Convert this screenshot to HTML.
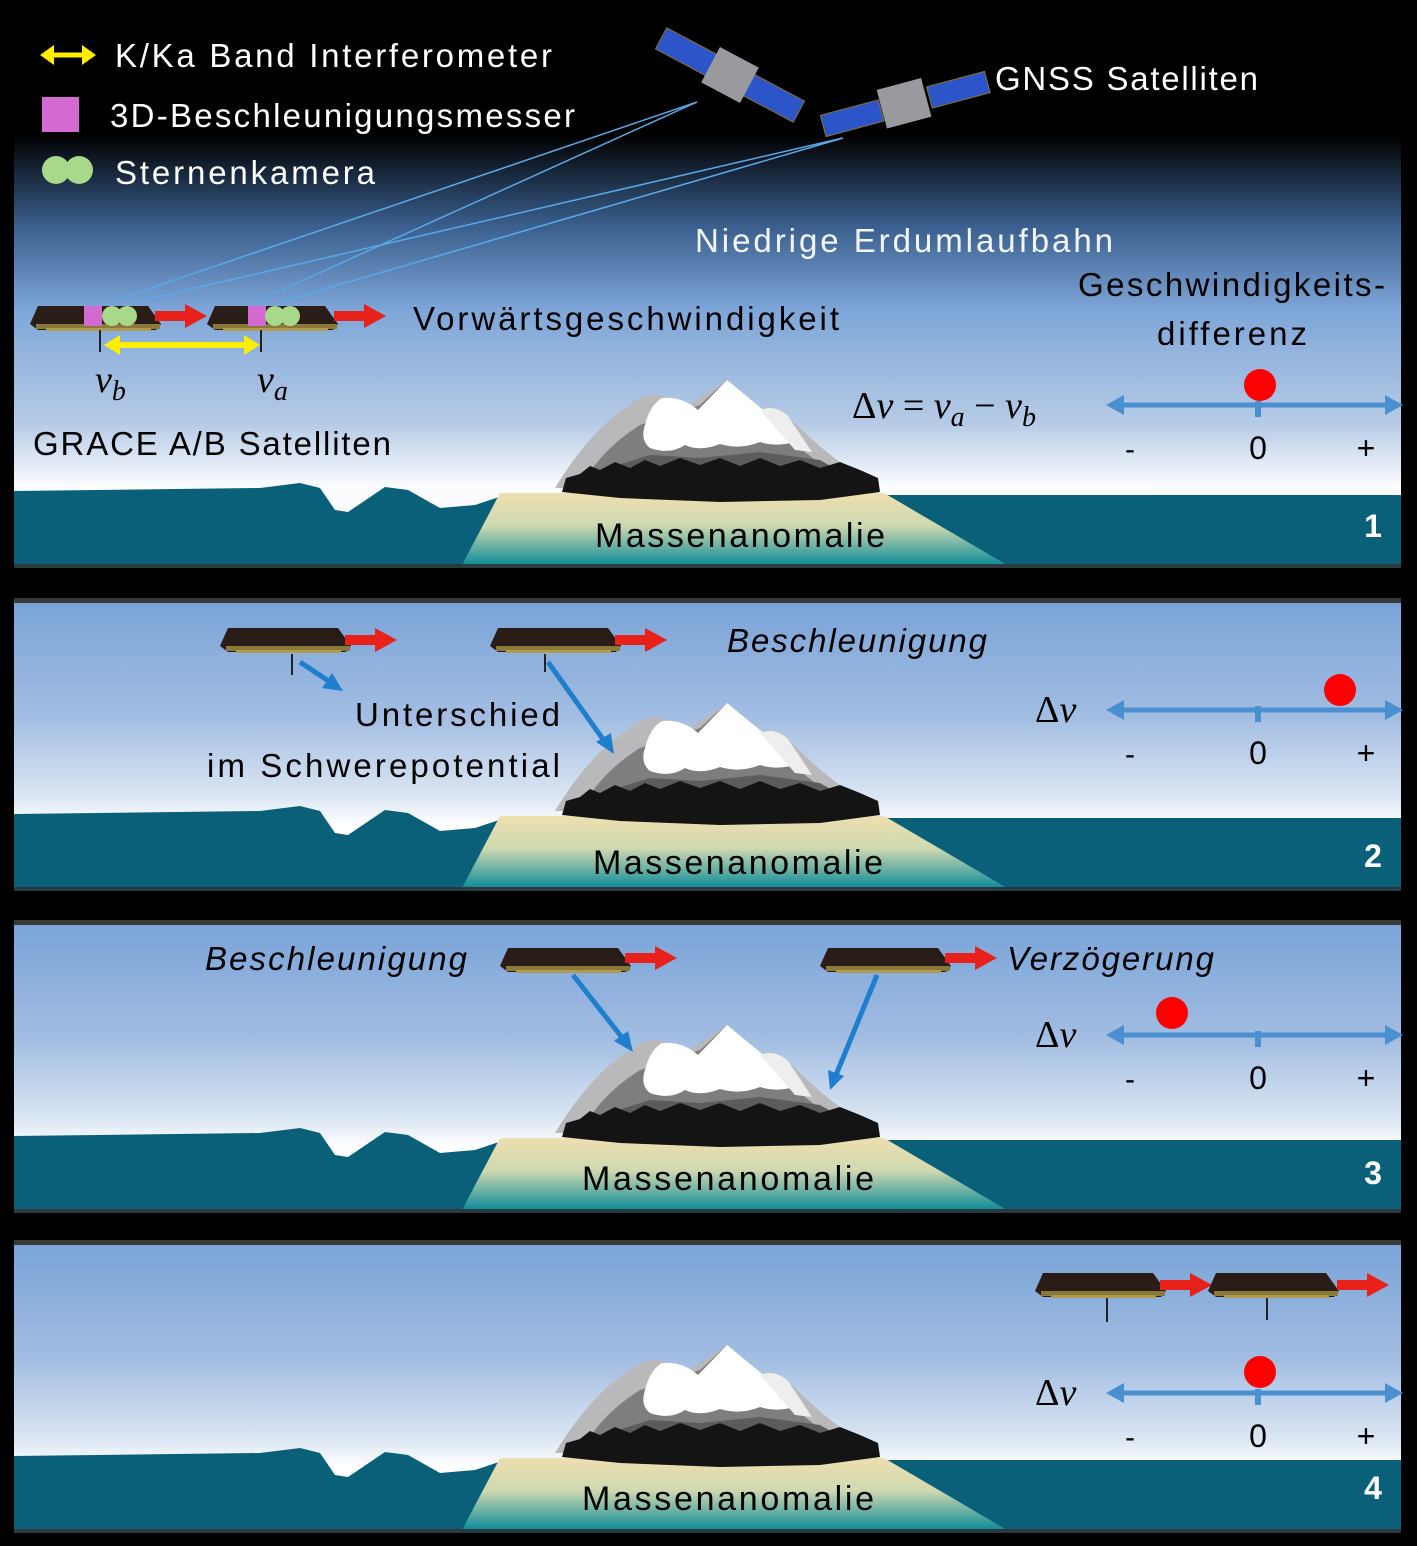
<!DOCTYPE html>
<html><head><meta charset="utf-8"><style>
html,body{margin:0;padding:0;background:#000;}
svg{display:block;}
text{font-family:"Liberation Sans",sans-serif;}
.m{font-family:"Liberation Serif",serif;font-style:italic;}
.s{font-family:"Liberation Serif",serif;}
</style></head><body>
<svg width="1417" height="1546" viewBox="0 0 1417 1546" xmlns="http://www.w3.org/2000/svg">
<defs>
<linearGradient id="sky1" x1="0" y1="0" x2="0" y2="1">
<stop offset="0" stop-color="#000"/><stop offset="0.24" stop-color="#000"/>
<stop offset="0.4" stop-color="#3a5f8e"/><stop offset="0.55" stop-color="#7ea6d8"/>
<stop offset="0.75" stop-color="#b6cbe6"/><stop offset="0.86" stop-color="#fbfcfe"/><stop offset="1" stop-color="#fff"/>
</linearGradient>
<linearGradient id="sky2" x1="0" y1="0" x2="0" y2="1">
<stop offset="0" stop-color="#7aa4d8"/><stop offset="0.4" stop-color="#a2bde2"/>
<stop offset="0.68" stop-color="#dbe6f3"/><stop offset="0.78" stop-color="#fff"/><stop offset="1" stop-color="#fff"/>
</linearGradient>
<linearGradient id="isl" x1="0" y1="0" x2="0" y2="1">
<stop offset="0" stop-color="#eedfb0"/><stop offset="0.45" stop-color="#cfd9b0"/><stop offset="1" stop-color="#0e8b98"/>
</linearGradient>
<g id="land">
<path d="M14,491 L260,488 L300,483 L320,488 L335,510 L348,512 L385,487 L408,490 L440,508 L475,505 L505,495 L1401,495 L1401,565 L14,565 Z" fill="#0a6079"/>
<path d="M500,493 L884,493 L1007,565 L462,565 Z" fill="url(#isl)"/>
<path d="M555,488 Q590,430 630,405 Q645,392 662,396 Q680,400 690,405 L727,380 L760,410 Q775,402 790,418 Q830,460 880,488 Z" fill="#b9b9bb"/>
<path d="M580,488 Q600,450 640,425 L700,405 L727,380 L790,440 L850,488 Z" fill="#7e7e80"/>
<path d="M645,425 Q650,405 662,398 Q682,396 698,410 L727,380 L800,440 Q780,448 760,442 Q740,450 720,444 Q700,452 685,445 Q670,455 650,448 Q640,440 645,425 Z" fill="#fff"/>
<path d="M760,410 Q775,404 788,416 L812,452 L795,450 Z" fill="#eeeeee"/>
<path d="M595,472 L650,455 L700,458 L760,452 L820,460 L855,480 L600,480 Z" fill="#5c5c5e"/>
<path d="M562,492 L566,478 L580,474 L590,466 L600,470 L615,462 L630,468 L645,460 L660,466 L680,458 L700,465 L720,458 L740,466 L760,458 L780,466 L800,460 L820,468 L840,462 L860,470 L878,478 L880,492 L820,500 L720,502 L620,498 Z" fill="#141414"/>
</g>
<g id="sat">
<path d="M0,0 L110,0 L123,18 L118,24 L0,24 L-8,18 Z" fill="#2a1d18"/>
<rect x="-2" y="18" width="124" height="5" fill="#8a7a3a"/>
<rect x="8" y="22" width="105" height="3" fill="#b09a50"/>
</g>
<g id="rarrow">
<path d="M0,-5 L30,-5 L30,-12 L52,0 L30,12 L30,5 L0,5 Z" fill="#e8211b"/>
</g>
<g id="nline">
<line x1="1120" y1="0" x2="1390" y2="0" stroke="#4a90d0" stroke-width="5"/>
<path d="M1106,0 L1124,-10 L1124,10 Z" fill="#4a90d0"/>
<path d="M1403,0 L1385,-10 L1385,10 Z" fill="#4a90d0"/>
<rect x="1255" y="-4" width="6" height="16" fill="#4a90d0"/>
<text x="1130" y="54" font-size="30" text-anchor="middle" fill="#000">-</text>
<text x="1258" y="54" font-size="32" text-anchor="middle" fill="#000">0</text>
<text x="1366" y="54" font-size="32" text-anchor="middle" fill="#000">+</text>
</g>
</defs>

<rect x="14" y="0" width="1387" height="565" fill="url(#sky1)"/>
<rect x="14" y="603" width="1387" height="285" fill="url(#sky2)"/>
<rect x="14" y="925" width="1387" height="285" fill="url(#sky2)"/>
<rect x="14" y="1245" width="1387" height="285" fill="url(#sky2)"/>
<use href="#land"/>
<use href="#land" transform="translate(0,323)"/>
<use href="#land" transform="translate(0,645)"/>
<use href="#land" transform="translate(0,965)"/>
<rect x="14" y="564" width="1387" height="4" fill="#2a3a40"/>
<rect x="14" y="598" width="1387" height="5" fill="#3a3a3a"/>
<rect x="14" y="887" width="1387" height="4" fill="#2a3a40"/>
<rect x="14" y="920" width="1387" height="5" fill="#3a3a3a"/>
<rect x="14" y="1209" width="1387" height="4" fill="#2a3a40"/>
<rect x="14" y="1240" width="1387" height="5" fill="#3a3a3a"/>
<rect x="14" y="1529" width="1387" height="4" fill="#2a3a40"/>

<line x1="50" y1="55" x2="86" y2="55" stroke="#ffee00" stroke-width="5"/>
<path d="M40,55 L54,45 L54,65 Z" fill="#ffee00"/><path d="M96,55 L82,45 L82,65 Z" fill="#ffee00"/>
<text x="115" y="67" font-size="33" fill="#fff" textLength="437">K/Ka Band Interferometer</text>
<rect x="42" y="97" width="37" height="35" fill="#d36ad0"/>
<text x="110" y="127" font-size="33" fill="#fff" textLength="465">3D-Beschleunigungsmesser</text>
<circle cx="56" cy="170" r="14" fill="#a8d98a"/><circle cx="79" cy="170" r="14" fill="#a8d98a"/>
<text x="115" y="184" font-size="33" fill="#fff" textLength="260">Sternenkamera</text>

<g transform="translate(730,75) rotate(28)">
<rect x="-78" y="-12" width="58" height="24" fill="#2b55c8" stroke="#8a7030"/>
<rect x="20" y="-12" width="58" height="24" fill="#2b55c8" stroke="#8a7030"/>
<rect x="-22" y="-20" width="44" height="40" fill="#9a9a9e"/>
</g>
<g transform="translate(905,103) rotate(-15)">
<rect x="-85" y="-10" width="60" height="22" fill="#2b55c8" stroke="#8a7030"/>
<rect x="25" y="-10" width="60" height="22" fill="#2b55c8" stroke="#8a7030"/>
<rect x="-24" y="-20" width="46" height="40" fill="#9a9a9e"/>
</g>
<text x="995" y="90" font-size="33" fill="#fff" textLength="263">GNSS Satelliten</text>
<g stroke="#5aa8e8" stroke-width="1.5">
<line x1="697" y1="102" x2="110" y2="302"/><line x1="697" y1="102" x2="255" y2="302"/>
<line x1="843" y1="138" x2="135" y2="302"/><line x1="843" y1="138" x2="280" y2="302"/>
</g>
<text x="695" y="252" font-size="33" fill="#f4f6ff" textLength="418">Niedrige Erdumlaufbahn</text>

<use href="#sat" x="38" y="306"/>
<rect x="84" y="306" width="18" height="20" fill="#d36ad0"/>
<circle cx="112" cy="316" r="10" fill="#a8d98a"/><circle cx="127" cy="316" r="10" fill="#a8d98a"/>
<use href="#rarrow" transform="translate(155,316)"/>
<use href="#sat" x="215" y="306"/>
<rect x="248" y="306" width="18" height="20" fill="#d36ad0"/>
<circle cx="275" cy="316" r="10" fill="#a8d98a"/><circle cx="290" cy="316" r="10" fill="#a8d98a"/>
<use href="#rarrow" transform="translate(334,316)"/>
<line x1="100" y1="330" x2="100" y2="352" stroke="#222" stroke-width="2"/>
<line x1="261" y1="330" x2="261" y2="352" stroke="#222" stroke-width="2"/>
<line x1="115" y1="345" x2="250" y2="345" stroke="#ffee00" stroke-width="6"/>
<path d="M104,345 L120,335 L120,355 Z" fill="#ffee00"/><path d="M260,345 L244,335 L244,355 Z" fill="#ffee00"/>
<text x="413" y="330" font-size="33" fill="#000" textLength="426">Vorwärtsgeschwindigkeit</text>
<text class="m" x="95" y="392" font-size="38">v<tspan font-size="28" dy="8">b</tspan></text>
<text class="m" x="257" y="392" font-size="38">v<tspan font-size="28" dy="8">a</tspan></text>
<text x="33" y="455" font-size="33" fill="#000" textLength="358">GRACE A/B Satelliten</text>
<text x="1385" y="296" font-size="33" fill="#000" text-anchor="end" textLength="307">Geschwindigkeits-</text>
<text x="1232" y="345" font-size="33" fill="#000" text-anchor="middle" textLength="150">differenz</text>
<text class="s" x="852" y="418" font-size="38" fill="#000">Δ<tspan font-style="italic">v</tspan> = <tspan font-style="italic">v</tspan><tspan font-style="italic" font-size="28" dy="8">a</tspan><tspan dy="-8"> − </tspan><tspan font-style="italic">v</tspan><tspan font-style="italic" font-size="28" dy="8">b</tspan></text>
<use href="#nline" transform="translate(0,405)"/>
<circle cx="1260" cy="385" r="16" fill="#f00"/>
<text x="595" y="547" font-size="34" fill="#000" textLength="290">Massenanomalie</text>
<text x="1373" y="537" font-size="32" font-weight="bold" fill="#fff" text-anchor="middle">1</text>

<use href="#sat" x="228" y="628"/>
<use href="#rarrow" transform="translate(345,640)"/>
<use href="#sat" x="498" y="628"/>
<use href="#rarrow" transform="translate(615,640)"/>
<line x1="292" y1="654" x2="292" y2="675" stroke="#222" stroke-width="2"/>
<line x1="545" y1="654" x2="545" y2="672" stroke="#222" stroke-width="2"/>
<g stroke="#1f7fcc" stroke-width="5"><line x1="300" y1="662" x2="330" y2="682"/><line x1="548" y1="662" x2="605" y2="742"/></g>
<path d="M343,691 L322,688 L332,673 Z" fill="#1f7fcc"/>
<path d="M614,754 L596,742 L611,733 Z" fill="#1f7fcc"/>
<text x="727" y="652" font-size="33" font-style="italic" fill="#000" textLength="260">Beschleunigung</text>
<text x="560" y="726" font-size="33" fill="#000" text-anchor="end" textLength="205">Unterschied</text>
<text x="560" y="777" font-size="33" fill="#000" text-anchor="end" textLength="353">im Schwerepotential</text>
<text class="s" x="1035" y="722" font-size="38" fill="#000">Δ<tspan font-style="italic">v</tspan></text>
<use href="#nline" transform="translate(0,710)"/>
<circle cx="1340" cy="690" r="16" fill="#f00"/>
<text x="593" y="874" font-size="34" fill="#000" textLength="290">Massenanomalie</text>
<text x="1373" y="867" font-size="32" font-weight="bold" fill="#fff" text-anchor="middle">2</text>

<use href="#sat" x="508" y="948"/>
<use href="#rarrow" transform="translate(625,958)"/>
<use href="#sat" x="828" y="948"/>
<use href="#rarrow" transform="translate(945,958)"/>
<g stroke="#1f7fcc" stroke-width="5"><line x1="573" y1="975" x2="624" y2="1040"/><line x1="877" y1="975" x2="836" y2="1075"/></g>
<path d="M633,1052 L614,1041 L628,1031 Z" fill="#1f7fcc"/>
<path d="M830,1090 L828,1070 L844,1076 Z" fill="#1f7fcc"/>
<text x="205" y="970" font-size="33" font-style="italic" fill="#000" textLength="262">Beschleunigung</text>
<text x="1007" y="970" font-size="33" font-style="italic" fill="#000" textLength="207">Verzögerung</text>
<text class="s" x="1035" y="1047" font-size="38" fill="#000">Δ<tspan font-style="italic">v</tspan></text>
<use href="#nline" transform="translate(0,1035)"/>
<circle cx="1172" cy="1013" r="16" fill="#f00"/>
<text x="582" y="1190" font-size="34" fill="#000" textLength="292">Massenanomalie</text>
<text x="1373" y="1184" font-size="32" font-weight="bold" fill="#fff" text-anchor="middle">3</text>

<use href="#sat" x="1043" y="1273"/>
<use href="#rarrow" transform="translate(1160,1285)"/>
<use href="#sat" x="1216" y="1273"/>
<use href="#rarrow" transform="translate(1337,1285)"/>
<line x1="1107" y1="1298" x2="1107" y2="1322" stroke="#222" stroke-width="2"/>
<line x1="1267" y1="1298" x2="1267" y2="1320" stroke="#222" stroke-width="2"/>
<text class="s" x="1035" y="1405" font-size="38" fill="#000">Δ<tspan font-style="italic">v</tspan></text>
<use href="#nline" transform="translate(0,1393)"/>
<circle cx="1260" cy="1372" r="16" fill="#f00"/>
<text x="582" y="1510" font-size="34" fill="#000" textLength="292">Massenanomalie</text>
<text x="1373" y="1499" font-size="32" font-weight="bold" fill="#fff" text-anchor="middle">4</text>
</svg>
</body></html>
